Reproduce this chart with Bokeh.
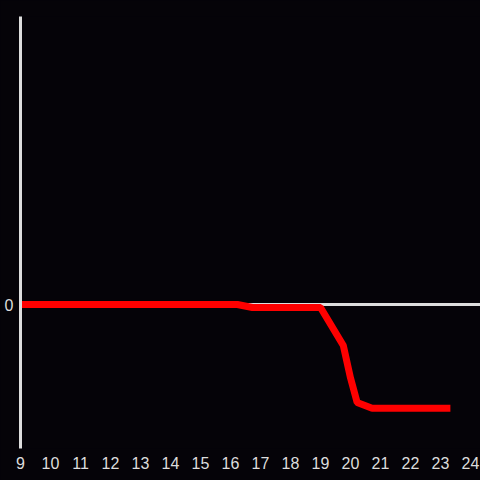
from bokeh.plotting import figure
from bokeh.models import Range1d, FixedTicker, Span
from bokeh.embed import file_html
from bokeh.resources import INLINE

hours = [9, 16.23, 16.73, 19.0, 19.76, 20.0, 20.22, 20.72, 23.33]
values = [0, 0, -0.021, -0.021, -0.285, -0.51, -0.68, -0.72, -0.72]
x_ticks = list(range(9, 25))
y_ticks = [0]

BG = "#050308"
p = figure(width=480, height=480, output_backend="svg", toolbar_location=None,
           x_range=Range1d(9, 24.333), y_range=Range1d(-1, 2),
           background_fill_color=BG, border_fill_color=BG,
           min_border_left=20, min_border_right=0, min_border_top=16, min_border_bottom=32)
p.outline_line_color = None
p.grid.visible = False

p.xaxis.ticker = FixedTicker(ticks=x_ticks)
p.xaxis.axis_line_color = None
p.xaxis.major_tick_line_color = None
p.xaxis.minor_tick_line_color = None
p.xaxis.major_label_text_color = "#dddddd"
p.xaxis.major_label_text_font_size = "16px"
p.xaxis.major_label_standoff = 2

p.yaxis.ticker = FixedTicker(ticks=y_ticks)
p.yaxis.axis_line_color = "#dddddd"
p.yaxis.axis_line_width = 3
p.yaxis.major_tick_line_color = None
p.yaxis.minor_tick_line_color = None
p.yaxis.major_label_text_color = "#dddddd"
p.yaxis.major_label_text_font_size = "16px"
p.yaxis.major_label_standoff = 1

p.add_layout(Span(location=0, dimension="width", line_color="#dddddd", line_width=3, level="underlay"))
p.line(hours, values, line_color="#ff0000", line_width=7)

html = file_html(p, INLINE)
html = html.replace("<head>", "<head><style>body{background:%s;}</style>" % BG, 1)
open("out.html", "w").write(html)
